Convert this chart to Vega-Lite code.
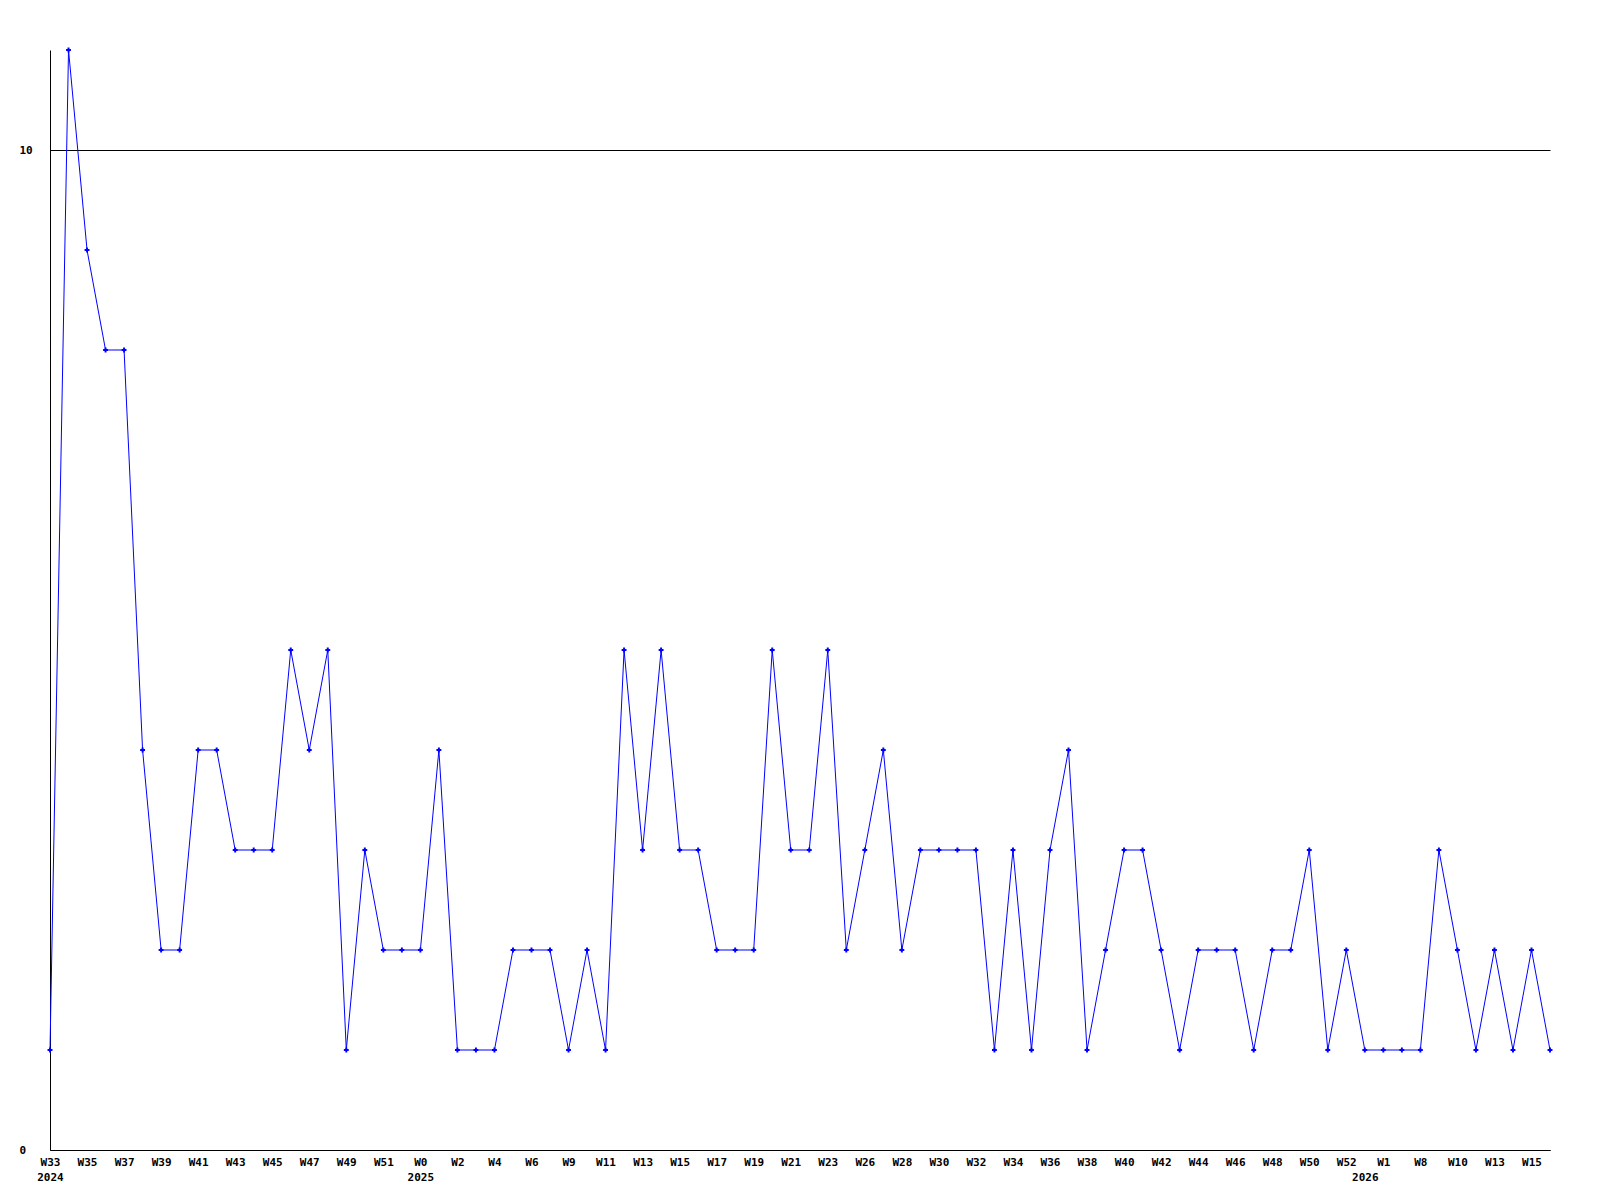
{
  "$schema": "https://vega.github.io/schema/vega-lite/v6.json",
  "width": 1500,
  "height": 1100,
  "padding": {"left": 50, "top": 50, "right": 50, "bottom": 50},
  "autosize": {"type": "none"},
  "background": "white",
  "config": {"view": {"stroke": null}},
  "data": {"values": [
    {"week": "2024 W33", "n": 1}, {"week": "2024 W34", "n": 11}, {"week": "2024 W35", "n": 9}, {"week": "2024 W36", "n": 8},
    {"week": "2024 W37", "n": 8}, {"week": "2024 W38", "n": 4}, {"week": "2024 W39", "n": 2}, {"week": "2024 W40", "n": 2},
    {"week": "2024 W41", "n": 4}, {"week": "2024 W42", "n": 4}, {"week": "2024 W43", "n": 3}, {"week": "2024 W44", "n": 3},
    {"week": "2024 W45", "n": 3}, {"week": "2024 W46", "n": 5}, {"week": "2024 W47", "n": 4}, {"week": "2024 W48", "n": 5},
    {"week": "2024 W49", "n": 1}, {"week": "2024 W50", "n": 3}, {"week": "2024 W51", "n": 2}, {"week": "2024 W52", "n": 2},
    {"week": "2025 W0", "n": 2}, {"week": "2025 W1", "n": 4}, {"week": "2025 W2", "n": 1}, {"week": "2025 W3", "n": 1},
    {"week": "2025 W4", "n": 1}, {"week": "2025 W5", "n": 2}, {"week": "2025 W6", "n": 2}, {"week": "2025 W8", "n": 2},
    {"week": "2025 W9", "n": 1}, {"week": "2025 W10", "n": 2}, {"week": "2025 W11", "n": 1}, {"week": "2025 W12", "n": 5},
    {"week": "2025 W13", "n": 3}, {"week": "2025 W14", "n": 5}, {"week": "2025 W15", "n": 3}, {"week": "2025 W16", "n": 3},
    {"week": "2025 W17", "n": 2}, {"week": "2025 W18", "n": 2}, {"week": "2025 W19", "n": 2}, {"week": "2025 W20", "n": 5},
    {"week": "2025 W21", "n": 3}, {"week": "2025 W22", "n": 3}, {"week": "2025 W23", "n": 5}, {"week": "2025 W25", "n": 2},
    {"week": "2025 W26", "n": 3}, {"week": "2025 W27", "n": 4}, {"week": "2025 W28", "n": 2}, {"week": "2025 W29", "n": 3},
    {"week": "2025 W30", "n": 3}, {"week": "2025 W31", "n": 3}, {"week": "2025 W32", "n": 3}, {"week": "2025 W33", "n": 1},
    {"week": "2025 W34", "n": 3}, {"week": "2025 W35", "n": 1}, {"week": "2025 W36", "n": 3}, {"week": "2025 W37", "n": 4},
    {"week": "2025 W38", "n": 1}, {"week": "2025 W39", "n": 2}, {"week": "2025 W40", "n": 3}, {"week": "2025 W41", "n": 3},
    {"week": "2025 W42", "n": 2}, {"week": "2025 W43", "n": 1}, {"week": "2025 W44", "n": 2}, {"week": "2025 W45", "n": 2},
    {"week": "2025 W46", "n": 2}, {"week": "2025 W47", "n": 1}, {"week": "2025 W48", "n": 2}, {"week": "2025 W49", "n": 2},
    {"week": "2025 W50", "n": 3}, {"week": "2025 W51", "n": 1}, {"week": "2025 W52", "n": 2}, {"week": "2026 W0", "n": 1},
    {"week": "2026 W1", "n": 1}, {"week": "2026 W4", "n": 1}, {"week": "2026 W8", "n": 1}, {"week": "2026 W9", "n": 3},
    {"week": "2026 W10", "n": 2}, {"week": "2026 W12", "n": 1}, {"week": "2026 W13", "n": 2}, {"week": "2026 W14", "n": 1},
    {"week": "2026 W15", "n": 2}, {"week": "2026 W16", "n": 1}
  ]},
  "encoding": {
    "x": {
      "field": "week", "type": "ordinal", "sort": null,
      "scale": {"type": "point", "padding": 0},
      "axis": {
        "title": null,
        "values": ["2024 W33","2024 W35","2024 W37","2024 W39","2024 W41","2024 W43","2024 W45","2024 W47","2024 W49","2024 W51",
                   "2025 W0","2025 W2","2025 W4","2025 W6","2025 W9","2025 W11","2025 W13","2025 W15","2025 W17","2025 W19","2025 W21","2025 W23",
                   "2025 W26","2025 W28","2025 W30","2025 W32","2025 W34","2025 W36","2025 W38","2025 W40","2025 W42","2025 W44","2025 W46","2025 W48",
                   "2025 W50","2025 W52","2026 W0","2026 W1","2026 W8","2026 W10","2026 W13","2026 W15"],
        "labelExpr": "datum.value == '2024 W33' ? ['W33', '2024'] : datum.value == '2025 W0' ? ['W0', '2025'] : datum.value == '2026 W0' ? ['', '2026'] : split(datum.value, ' ')[1]",
        "labelAngle": 0,
        "labelOverlap": false,
        "labelFont": "DejaVu Sans Mono",
        "labelFontWeight": "bold",
        "labelFontSize": 11,
        "labelColor": "black",
        "labelPadding": 6,
        "labelLineHeight": 15,
        "ticks": false,
        "tickSize": 0,
        "domainColor": "black",
        "domainWidth": 1,
        "grid": false
      }
    },
    "y": {
      "field": "n", "type": "quantitative",
      "scale": {"domain": [0, 11], "nice": false, "zero": true},
      "axis": {
        "title": null,
        "values": [0, 10],
        "grid": true,
        "gridColor": "black",
        "gridOpacity": 1,
        "gridWidth": 1,
        "ticks": false,
        "tickSize": 0,
        "labelAlign": "left",
        "labelPadding": 31,
        "labelFont": "DejaVu Sans Mono",
        "labelFontWeight": "bold",
        "labelFontSize": 11,
        "labelColor": "black",
        "domainColor": "black",
        "domainWidth": 1
      }
    }
  },
  "layer": [
    {"mark": {"type": "line", "color": "#0000ff", "strokeWidth": 1}},
    {"mark": {"type": "point", "shape": "cross", "filled": true, "color": "#0000ff", "size": 24, "opacity": 1}}
  ]
}
